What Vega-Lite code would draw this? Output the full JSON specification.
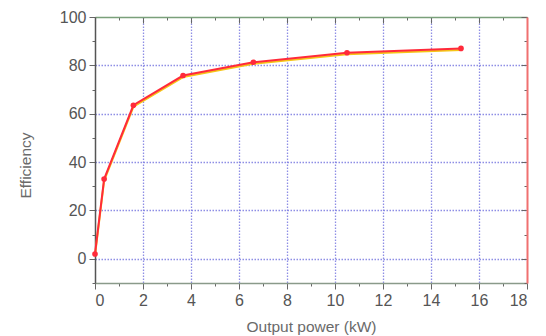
{
  "$schema": "https://vega.github.io/schema/vega-lite/v6.json",
  "width": 432,
  "height": 266,
  "autosize": "none",
  "padding": {"left": 95, "top": 17, "right": 19, "bottom": 53},
  "background": "white",
  "config": {
    "view": {"stroke": null},
    "font": "Liberation Sans",
    "axis": {"labelColor": "#555555", "titleColor": "#6a6a6a", "labelFontSize": 16, "titleFontSize": 15.5, "titleFontWeight": "normal", "labelFont": "Liberation Sans", "titleFont": "Liberation Sans"}
  },
  "data": {"values": [
    {"power": 0.0, "eff": 2},
    {"power": 0.38, "eff": 33},
    {"power": 1.6, "eff": 63.5},
    {"power": 3.67, "eff": 75.8},
    {"power": 6.6, "eff": 81.3},
    {"power": 10.5, "eff": 85.2},
    {"power": 15.25, "eff": 87}
  ]},
  "resolve": {"scale": {"x": "independent", "y": "independent"}},
  "layer": [
    {
      "mark": {"type": "line", "color": "#f5c518", "strokeWidth": 2, "yOffset": 1.5},
      "encoding": {
        "x": {"field": "power", "type": "quantitative", "scale": {"domain": [0, 18], "nice": false},
          "axis": {"title": "Output power (kW)", "values": [0,1,2,3,4,5,6,7,8,9,10,11,12,13,14,15,16,17,18],
            "labelExpr": "datum.value % 2 == 0 ? datum.label : ''",
            "tickSize": {"condition": {"test": "datum.value % 2 == 0", "value": 6}, "value": 3},
            "tickColor": "#666666", "domainColor": "#8a9a8a", "domainWidth": 1.5,
            "grid": true, "gridColor": "#7a7ae0", "gridDash": [1.5, 1.5], "gridWidth": 1.3,
            "gridOpacity": {"condition": {"test": "datum.value % 2 == 0 && datum.value > 0 && datum.value < 18", "value": 0.85}, "value": 0},
            "labelPadding": 3, "titlePadding": 11}},
        "y": {"field": "eff", "type": "quantitative", "scale": {"domain": [-10, 100], "nice": false},
          "axis": {"title": "Efficiency", "values": [-10,0,10,20,30,40,50,60,70,80,90,100],
            "labelExpr": "datum.value % 20 == 0 ? datum.label : ''",
            "tickSize": {"condition": {"test": "datum.value % 20 == 0", "value": 6}, "value": 3},
            "tickColor": "#666666", "domainColor": "#555555", "domainWidth": 1.5,
            "grid": true, "gridColor": "#7a7ae0", "gridDash": [1.5, 1.5], "gridWidth": 1.3,
            "gridOpacity": {"condition": {"test": "datum.value % 20 == 0 && datum.value < 100", "value": 0.85}, "value": 0},
            "labelPadding": 3, "titlePadding": 26, "titleY": 148}}
      }
    },
    {
      "mark": {"type": "line", "color": "#ff2a3a", "strokeWidth": 2},
      "encoding": {
        "x": {"field": "power", "type": "quantitative", "scale": {"domain": [0, 18], "nice": false}, "axis": null},
        "y": {"field": "eff", "type": "quantitative", "scale": {"domain": [-10, 100], "nice": false}, "axis": null}
      }
    },
    {
      "mark": {"type": "point", "filled": true, "color": "#ff2a3a", "size": 32, "opacity": 1},
      "encoding": {
        "x": {"field": "power", "type": "quantitative", "scale": {"domain": [0, 18], "nice": false},
          "axis": {"orient": "top", "title": null, "labels": false, "values": [0,1,2,3,4,5,6,7,8,9,10,11,12,13,14,15,16,17,18],
            "tickSize": {"condition": {"test": "datum.value % 2 == 0", "value": -6}, "value": -3},
            "tickColor": "#666666", "domainColor": "#7aa07a", "domainWidth": 1.5, "grid": false}},
        "y": {"field": "eff", "type": "quantitative", "scale": {"domain": [-10, 100], "nice": false},
          "axis": {"orient": "right", "title": null, "labels": false, "values": [-10,0,10,20,30,40,50,60,70,80,90,100],
            "tickSize": {"condition": {"test": "datum.value % 20 == 0", "value": -6}, "value": -3},
            "tickColor": "#666666", "domainColor": "#f07070", "domainWidth": 2, "grid": false}}
      }
    }
  ]
}
